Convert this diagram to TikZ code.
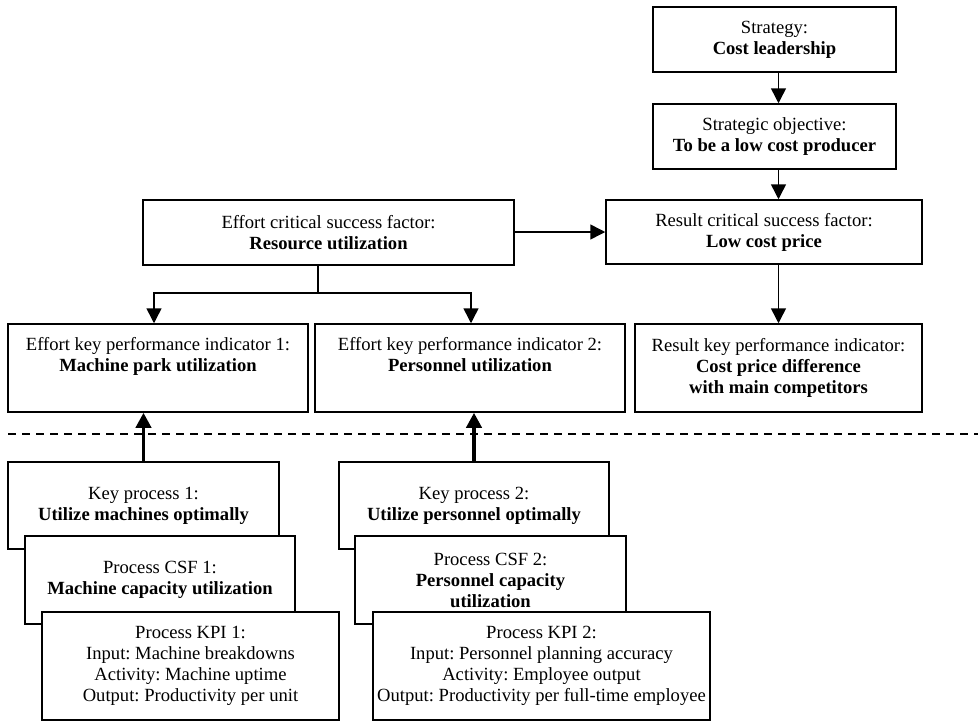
\documentclass[tikz,border=0pt]{standalone}
\usepackage{fontspec}
\setmainfont{Liberation Serif}
\usetikzlibrary{arrows.meta}
\frenchspacing

\begin{document}
\begin{tikzpicture}[x=1pt,y=-1pt,
    box/.style={draw, line width=1.5pt, fill=white, align=center, inner sep=0pt,
      font=\fontsize{18.6}{21}\selectfont},
    line/.style={draw, line width=1.5pt, -{Triangle[length=15pt,width=15pt]}},
    heavy/.style={draw, line width=3.8pt, -{Triangle[length=15pt,width=15pt]}},
    divider/.style={draw, line width=1.5pt, dash pattern=on 8pt off 6pt},
    ]
    \useasboundingbox (0,0) rectangle (978,721);

    % Place nodes
    \node [box, minimum width=243pt, minimum height=65pt] (strat) at (774.5,39.5)
      {Strategy:\\\textbf{Cost leadership}};
    \node [box, minimum width=243pt, minimum height=65pt] (obj) at (774.5,136.5)
      {Strategic objective:\\\textbf{To be a low cost producer}};
    \node [box, minimum width=316pt, minimum height=64pt] (rcsf) at (764,232)
      {Result critical success factor:\\\textbf{Low cost price}};
    \node [box, minimum width=287pt, minimum height=88pt] (rkpi) at (778.5,368)
      {Result key performance indicator:\\\textbf{Cost price difference}\\\textbf{with main competitors}};
    \node [box, minimum width=371pt, minimum height=65pt] (ecsf) at (328.5,232.5)
      {Effort critical success factor:\\\textbf{Resource utilization}};
    \node [box, minimum width=300pt, minimum height=88pt] (ekpi1) at (158,368)
      {Effort key performance indicator 1:\\\textbf{Machine park utilization}\\\strut};
    \node [box, minimum width=310pt, minimum height=88pt] (ekpi2) at (470,368)
      {Effort key performance indicator 2:\\\textbf{Personnel utilization}\\\strut};

    % process stack 1
    \node [box, minimum width=271pt, minimum height=87pt] (kp1) at (143.5,505.5)
      {Key process 1:\\\textbf{Utilize machines optimally}};
    \node [box, minimum width=270pt, minimum height=88pt] (csf1) at (160,580)
      {Process CSF 1:\\\textbf{Machine capacity utilization}};
    \node [box, minimum width=297pt, minimum height=108pt] (kpi1) at (190.5,666)
      {Process KPI 1:\\Input: Machine breakdowns\\Activity: Machine uptime\\Output: Productivity per unit};

    % process stack 2
    \node [box, minimum width=270pt, minimum height=87pt] (kp2) at (474,505.5)
      {Key process 2:\\\textbf{Utilize personnel optimally}};
    \node [box, minimum width=271pt, minimum height=88pt] (csf2) at (490.5,580)
      {Process CSF 2:\\\textbf{Personnel capacity}\\\textbf{utilization}};
    \node [box, minimum width=337pt, minimum height=108pt] (kpi2) at (541.5,666)
      {Process KPI 2:\\Input: Personnel planning accuracy\\Activity: Employee output\\Output: Productivity per full-time employee};

    \coordinate (fork) at (318,293);
    \coordinate (dashL) at (8,434);
    \coordinate (dashR) at (978,434);

    % Draw edges
    \path [divider] (dashL) -- (dashR);
    \path [line] (strat.south -| rkpi.north) -- (obj.north -| rkpi.north);
    \path [line] (obj.south -| rkpi.north) -- (rcsf.north -| rkpi.north);
    \path [line] (rcsf.south -| rkpi.north) -- (rkpi.north);
    \path [line] (ecsf.east |- rcsf.west) -- (rcsf.west);

    \draw [line width=1.5pt] (fork |- ecsf.south) -- (fork);
    \path [line] (fork) -| ([xshift=-4pt]ekpi1.north);
    \path [line] (fork) -| ([xshift=1pt]ekpi2.north);

    \path [heavy] (kp1.north) -- (kp1.north |- ekpi1.south);
    \path [heavy] (kp2.north) -- (kp2.north |- ekpi2.south);
  \end{tikzpicture}
\end{document}
